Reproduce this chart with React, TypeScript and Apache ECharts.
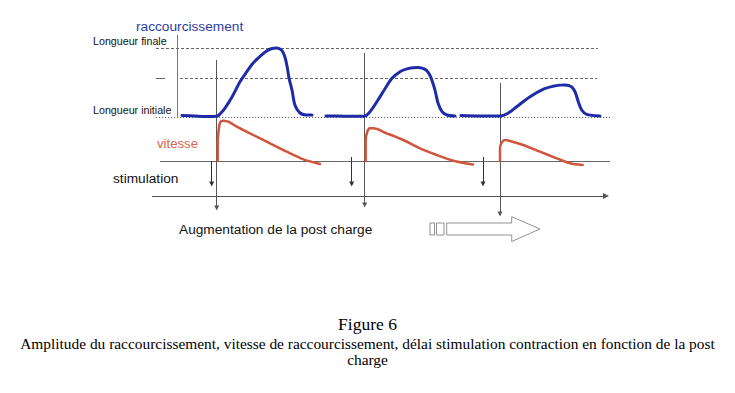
import React, { useEffect, useRef } from "react";
import * as echarts from "echarts";

// ---- data (time in arbitrary units, shortening 0 = longueur initiale .. 10 = longueur finale) ----
const lengthTickLabels = ["Longueur initiale", "Longueur finale"];
const lengthLevels = [0, 5.65, 10];

// stimulation instants and onset of contraction (délai croissant avec la post charge)
const stimTimes = [61.7, 201.7, 333];
const onsetTimes = [66.7, 214.7, 350];

const shortening1 = [
  [32, 0.22], [45, 0.14], [55, 0.07], [66.7, 0.1], [70, 0.43], [75, 1.3], [82, 2.9], [90, 5.1],
  [96, 6.4], [103, 7.8], [110, 8.8], [117, 9.6], [122, 9.92], [126, 10], [130, 9.85], [133, 9.4],
  [135.5, 8.4], [137.5, 7], [139, 5.65], [142, 3.9], [145, 1.7], [150, 0.58], [156, 0.3], [162, 0.29],
];
const shortening2 = [
  [176, 0.14], [195, 0.12], [214, 0.1], [220, 0.77], [228, 2.46], [235, 4.1], [242, 5.6],
  [250, 6.57], [257, 6.98], [263, 7.13], [268, 7.16], [272, 7.08], [275, 6.9], [277.5, 6.6],
  [279.5, 6.15], [281.5, 5.5], [285, 3.9], [288, 2.03], [292, 0.77], [297, 0.29], [305, 0.14],
];
const shortening3 = [
  [311, 0.2], [330, 0.14], [350, 0.14], [358, 0.54], [366.7, 1.49], [380, 2.94], [393, 4.01],
  [403, 4.45], [410, 4.62], [415, 4.65], [419, 4.55], [421.7, 4.35], [423.7, 4.0], [425.5, 3.5],
  [428.3, 2.22], [431.7, 1.01], [436.7, 0.39], [450, 0.14],
];

const velocity1 = [
  [67.7, 0], [67.7, 3.5], [68.7, 6.2], [70, 7.66], [72.7, 8.06], [78.3, 7.86], [86.7, 6.86],
  [103.3, 5.2], [120, 3.54], [136.7, 1.86], [153.3, 0.34], [170, -0.6],
];
const velocity2 = [
  [215.7, 0], [215.7, 4.2], [217.3, 5.86], [220, 6.54], [223.3, 6.54], [236.7, 5.54],
  [253.3, 4.2], [270, 2.54], [286.7, 1.2], [303.3, 0.06], [323, -0.7],
];
const velocity3 = [
  [350, 0], [350, 2.54], [351.7, 3.66], [355, 4.2], [360, 4.0], [373.3, 3.2], [390, 1.86],
  [406.7, 0.54], [420, -0.46], [432.7, -0.8],
];

const BLUE = "#1e2ca8";
const RED = "#cf553c";
const GREY = "#666";
const SANS = '"Liberation Sans", Arial, sans-serif';
const SERIF = '"Liberation Serif", "Times New Roman", serif';

export default function App() {
  const ref = useRef<HTMLDivElement>(null);
  useEffect(() => {
    if (!ref.current) return;
    const chart = echarts.init(ref.current, undefined, { renderer: "svg" });

    const noMark = { symbol: "none" };
    const arrowEnd = { symbol: "triangle", symbolSize: 5 };

    const lineBase = {
      type: "line",
      showSymbol: false,
      symbol: "none",
      silent: true,
      smooth: 0.3,
    };

    // overlay grid: y units measured upward from the bottom of the overlay
    const stimArrowTop = [69, 73, 73];
    const onsetTop = [170, 177, 147];
    const onsetTip = [22, 25, 16];

    const option: any = {
      animation: false,
      backgroundColor: "#ffffff",
      grid: [
        { left: 150, top: 34.2, width: 470, height: 82.8 },
        { left: 150, top: 116, width: 470, height: 50 },
        { left: 150, top: 30, width: 470, height: 200 },
      ],
      xAxis: [0, 1, 2].map((i) => ({ type: "value", gridIndex: i, min: 0, max: 470, show: false })),
      yAxis: [
        {
          type: "value",
          gridIndex: 0,
          min: 0,
          max: 12,
          interval: 10,
          axisLine: { show: false },
          axisTick: { show: false },
          splitLine: { show: false },
          axisLabel: {
            show: true,
            align: "left",
            verticalAlign: "bottom",
            margin: 57,
            padding: [0, 0, 2, 0],
            fontSize: 10.7,
            fontFamily: SANS,
            color: "#111",
            formatter: (v: number) => (v === 0 ? lengthTickLabels[0] : v === 10 ? lengthTickLabels[1] : ""),
          },
        },
        { type: "value", gridIndex: 1, min: -1, max: 9, show: false },
        { type: "value", gridIndex: 2, min: 0, max: 200, show: false },
      ],
      series: [
        ...[shortening1, shortening2, shortening3].map((d, i) => ({
          ...lineBase,
          xAxisIndex: 0,
          yAxisIndex: 0,
          data: d,
          lineStyle: { color: BLUE, width: 3, cap: "round" },
          z: 5,
          markLine:
            i === 0
              ? {
                  silent: true,
                  symbol: ["none", "none"],
                  label: { show: false },
                  emphasis: { disabled: true },
                  lineStyle: { color: GREY, width: 1 },
                  data: [
                    [{ coord: [6, lengthLevels[2]], lineStyle: { type: [3, 2], color: GREY, width: 1 } }, { coord: [448, lengthLevels[2]] }],
                    [{ coord: [30, lengthLevels[1]], lineStyle: { type: [3, 2], color: GREY, width: 1 } }, { coord: [447, lengthLevels[1]] }],
                    [{ coord: [6, lengthLevels[1]], lineStyle: { type: "solid", color: GREY, width: 1 } }, { coord: [15, lengthLevels[1]] }],
                    [{ coord: [6, lengthLevels[0]], lineStyle: { type: [1.2, 1.8], color: GREY, width: 1 } }, { coord: [460, lengthLevels[0]] }],
                    [{ coord: [27, 0], lineStyle: { type: "solid", color: "#777", width: 1 } }, { coord: [27, 11.9] }],
                  ],
                }
              : undefined,
        })),
        ...[velocity1, velocity2, velocity3].map((d, i) => ({
          ...lineBase,
          xAxisIndex: 1,
          yAxisIndex: 1,
          data: d,
          lineStyle: { color: RED, width: 2.5, cap: "round" },
          z: 5,
          markLine:
            i === 0
              ? {
                  silent: true,
                  symbol: ["none", "none"],
                  label: { show: false },
                  emphasis: { disabled: true },
                  lineStyle: { color: GREY, width: 1, type: "solid" },
                  data: [[{ coord: [10, 0] }, { coord: [460, 0] }]],
                }
              : undefined,
        })),
        {
          type: "line",
          xAxisIndex: 2,
          yAxisIndex: 2,
          data: [],
          silent: true,
          markLine: {
            silent: true,
            symbol: ["none", "none"],
            label: { show: false },
            emphasis: { disabled: true },
            lineStyle: { color: "#444", width: 1, type: "solid" },
            data: [
              [{ coord: [2, 34], ...noMark, lineStyle: { color: "#555", width: 1, type: "solid" } }, { coord: [456, 34], symbol: "triangle", symbolSize: 6 }],
              ...stimTimes.map((t, i) => [
                { coord: [t, stimArrowTop[i]], ...noMark, lineStyle: { color: "#333", width: 1, type: "solid" } },
                { coord: [t, 46], ...arrowEnd },
              ]),
              ...onsetTimes.map((t, i) => [
                { coord: [t, onsetTop[i]], ...noMark, lineStyle: { color: "#555", width: 1, type: "solid" } },
                { coord: [t, onsetTip[i]], ...arrowEnd },
              ]),
            ],
          },
        },
      ],
      graphic: [
        { type: "text", x: 136, y: 26, style: { text: "raccourcissement", fill: "#2f3ea2", fontSize: 13.7, fontFamily: SANS, align: "left", verticalAlign: "middle" } },
        { type: "text", x: 157, y: 143.5, style: { text: "vitesse", fill: "#d8664e", fontSize: 13.2, fontFamily: SANS, align: "left", verticalAlign: "middle" } },
        { type: "text", x: 113, y: 178.5, style: { text: "stimulation", fill: "#111", fontSize: 13.7, fontFamily: SANS, align: "left", verticalAlign: "middle" } },
        { type: "text", x: 179, y: 229.6, style: { text: "Augmentation de la post charge", fill: "#111", fontSize: 13.7, fontFamily: SANS, align: "left", verticalAlign: "middle" } },
        { type: "rect", shape: { x: 430, y: 223, width: 4.5, height: 12 }, style: { fill: "#fff", stroke: "#777", lineWidth: 0.8 } },
        { type: "rect", shape: { x: 436.5, y: 223, width: 7.5, height: 12 }, style: { fill: "#fff", stroke: "#777", lineWidth: 0.8 } },
        {
          type: "polygon",
          shape: { points: [[446.7, 223], [511.7, 223], [511.7, 216.7], [540, 229], [511.7, 241.5], [511.7, 235], [446.7, 235]] },
          style: { fill: "#fff", stroke: "#777", lineWidth: 0.8 },
        },
        { type: "text", x: 367.5, y: 324, style: { text: "Figure 6", fill: "#000", fontSize: 17.5, fontFamily: SERIF, align: "center", verticalAlign: "middle" } },
        {
          type: "text",
          x: 367.5,
          y: 343,
          style: {
            text: "Amplitude du raccourcissement, vitesse de raccourcissement, délai stimulation contraction en fonction de la post",
            fill: "#000",
            fontSize: 15.4,
            fontFamily: SERIF,
            align: "center",
            verticalAlign: "middle",
          },
        },
        { type: "text", x: 367.5, y: 359, style: { text: "charge", fill: "#000", fontSize: 15.4, fontFamily: SERIF, align: "center", verticalAlign: "middle" } },
      ],
    };

    chart.setOption(option);
    return () => chart.dispose();
  }, []);

  return <div ref={ref} style={{ position: "fixed", left: 0, top: 0, width: 735, height: 393 }} />;
}
